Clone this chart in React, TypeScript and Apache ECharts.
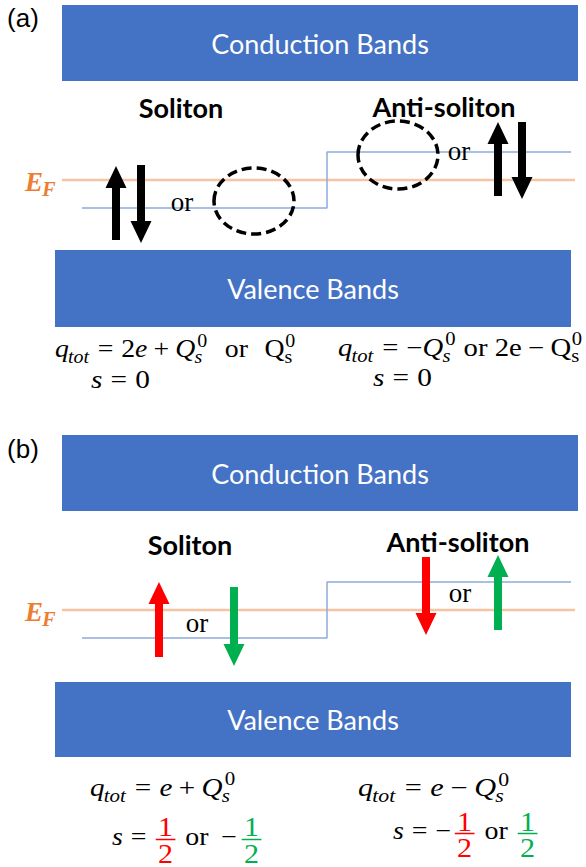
import React, { useEffect, useRef } from 'react';
import * as echarts from 'echarts';

const WIDTH = 586;
const HEIGHT = 867;

// ---------- diagram data (diagram units = pixels of the figure) ----------
const bandNames = ['Conduction Bands', 'Valence Bands'];
// [x0, y0, x1, y1, name index]
const bandBlocks = [
  [62, 5, 578, 81, 0],
  [55, 250, 571, 327, 1],
  [62, 435, 578, 511, 0],
  [55, 682, 571, 757, 1],
];

const fermiLevels = [180, 610];
const fermiSpan = [62, 575];
const solitonLevelA = [[82, 208], [327, 208], [327, 152], [571, 152]];
const solitonLevelB = [[82, 638], [327, 638], [327, 582], [571, 582]];

const spinColors = ['#000000', '#FF0000', '#00B050'];
// [x, tail y, tip y, colour index]
const spinArrows = [
  [116, 240, 166, 0],
  [141, 165, 243, 0],
  [498, 196, 122, 0],
  [522, 122, 199, 0],
  [159, 657, 582, 1],
  [234, 587, 666, 2],
  [426, 557, 635, 1],
  [498, 630, 555, 2],
];

// empty (hole) states: [cx, cy, rx, ry]
const emptyStates = [
  [254, 201, 40, 33],
  [398, 155, 40, 34],
];

const labelTexts = ['(a)', '(b)', 'Soliton', 'Anti-soliton', 'or'];
// [x, y, text index, kind]
const labelMarks = [
  [23, 18, 0, 0],
  [23, 449, 1, 0],
  [181, 107, 2, 1],
  [444, 106, 3, 1],
  [190, 544, 2, 1],
  [458, 541, 3, 1],
  [182, 202, 4, 2],
  [459, 151, 4, 2],
  [197, 623, 4, 2],
  [460, 593, 4, 2],
];

// ---------- formula tokens ----------
type Tok =
  | { k: 't'; s: string; it?: boolean; c?: string }
  | { k: 'op'; s: string }
  | { k: 'ss'; sub?: string; sup?: string; subUp?: boolean }
  | { k: 'fr'; n: string; d: string; c: string }
  | { k: 'sp'; w: number };

const T = (s: string, it = false, c?: string): Tok => ({ k: 't', s, it, c });
const OP = (s: string): Tok => ({ k: 'op', s });
const SS = (sub?: string, sup?: string, subUp = false): Tok => ({ k: 'ss', sub, sup, subUp });
const FR = (n: string, d: string, c: string): Tok => ({ k: 'fr', n, d, c });
const SP = (w: number): Tok => ({ k: 'sp', w });

const RED = '#FF0000';
const GREEN = '#00B050';

const fermiSymbol = [T('E', true), SS('F')];
const chargeA1 = [T('q', true), SS('tot'), OP('='), T('2'), T('e', true), OP('+'), T('Q', true), SS('s', '0'), SP(0.6), T('or'), SP(0.6), T('Q'), SS('s', '0', true)];
const chargeA2 = [T('q', true), SS('tot'), OP('='), T('\u2212'), T('Q', true), SS('s', '0'), SP(0.25), T('or'), SP(0.25), T('2e'), OP('\u2212'), T('Q'), SS('s', '0', true)];
const spinZero = [T('s', true), OP('='), T('0')];
const chargeB1 = [T('q', true), SS('tot'), OP('='), T('e', true), OP('+'), T('Q', true), SS('s', '0')];
const chargeB2 = [T('q', true), SS('tot'), OP('='), T('e', true), OP('\u2212'), T('Q', true), SS('s', '0')];
const spinB1 = [T('s', true), OP('='), FR('1', '2', RED), SP(0.3), T('or'), SP(0.45), T('\u2212'), SP(0.12), FR('1', '2', GREEN)];
const spinB2 = [T('s', true), OP('='), T('\u2212'), SP(0.08), FR('1', '2', RED), SP(0.3), T('or'), SP(0.3), FR('1', '2', GREEN)];

const formulaList = [fermiSymbol, fermiSymbol, chargeA1, spinZero, chargeA2, spinZero, chargeB1, spinB1, chargeB2, spinB2];
// [left x, baseline y, target width (0 = default stretch), style index]
const formulaAnchors = [
  [25, 191, 0, 1],
  [25, 621, 0, 1],
  [55, 357, 241, 0],
  [91, 388, 59, 0],
  [338, 356, 245, 0],
  [373, 386, 59, 0],
  [90, 796, 146, 0],
  [112, 845, 151, 0],
  [358, 796, 152, 0],
  [393, 839, 146, 0],
];

// ---------- styles ----------
const SERIF = '"Liberation Serif", "Times New Roman", serif';
const CENTRAL = 0.34;
interface FStyle { size: number; color: string; bold: boolean; scriptRatio: number; subDrop: number; supRise: number; }
const formulaStyles: FStyle[] = [
  { size: 25, color: '#000000', bold: false, scriptRatio: 0.72, subDrop: 0.25, supRise: 0.42 },
  { size: 27, color: '#ED7D31', bold: true, scriptRatio: 0.74, subDrop: 0.19, supRise: 0.4 },
];

let measureCtx: CanvasRenderingContext2D | null = null;
function measureText(text: string, font: string): number {
  if (!measureCtx) measureCtx = document.createElement('canvas').getContext('2d');
  if (!measureCtx) return text.length * 10;
  measureCtx.font = font;
  return measureCtx.measureText(text).width;
}
function fontStr(size: number, it: boolean, bold: boolean) {
  return `${it ? 'italic ' : ''}${bold ? 'bold ' : ''}${size.toFixed(2)}px ${SERIF}`;
}

function layoutFormula(tokens: Tok[], st: FStyle) {
  const S = st.size;
  const pieces: any[] = [];
  let x = 0;
  let prevItalic = false;
  const put = (text: string, px: number, base: number, size: number, it: boolean, color: string) => {
    pieces.push({
      type: 'text',
      x: px,
      y: base - CENTRAL * size,
      style: { text, font: fontStr(size, it, st.bold), fill: color, align: 'left', verticalAlign: 'middle' },
    });
  };
  for (const t of tokens) {
    if (t.k === 't') {
      const w = measureText(t.s, fontStr(S, !!t.it, st.bold));
      put(t.s, x, 0, S, !!t.it, t.c || st.color);
      x += w;
      prevItalic = !!t.it;
    } else if (t.k === 'op') {
      const g = (t.s === '=' ? 0.28 : 0.22) * S;
      x += g;
      const w = measureText(t.s, fontStr(S, false, st.bold));
      put(t.s, x, 0, S, false, st.color);
      x += w + g;
      prevItalic = false;
    } else if (t.k === 'ss') {
      const s2 = S * st.scriptRatio;
      let w = 0;
      if (t.sub) {
        const off = prevItalic ? -0.03 * S : 0;
        const ws = measureText(t.sub, fontStr(s2, !t.subUp, st.bold));
        put(t.sub, x + off, st.subDrop * S, s2, !t.subUp, st.color);
        w = Math.max(w, ws + off);
      }
      if (t.sup) {
        const off = prevItalic ? 0.07 * S : 0.02 * S;
        const ws = measureText(t.sup, fontStr(s2, false, st.bold));
        put(t.sup, x + off, -st.supRise * S, s2, false, st.color);
        w = Math.max(w, ws + off);
      }
      x += w + 0.03 * S;
      prevItalic = false;
    } else if (t.k === 'fr') {
      const fs = S * 1.08;
      const fnt = fontStr(fs, false, st.bold);
      const wn = measureText(t.n, fnt);
      const wd = measureText(t.d, fnt);
      const pad = 0.14 * S;
      const fw = Math.max(wn, wd) + 2 * pad;
      const bar = -0.22 * S;
      put(t.n, x + (fw - wn) / 2, bar - 0.13 * S, fs, false, t.c);
      put(t.d, x + (fw - wd) / 2, bar + 0.2 * S + 0.68 * fs, fs, false, t.c);
      pieces.push({
        type: 'rect',
        shape: { x: x + pad * 0.4, y: bar - 0.75, width: fw - pad * 0.8, height: 1.5 },
        style: { fill: t.c },
      });
      x += fw;
      prevItalic = false;
    } else if (t.k === 'sp') {
      x += t.w * S;
    }
  }
  return { pieces, width: x };
}

function formulaStretch(): number[] {
  const natural = formulaList.map((toks, i) => layoutFormula(toks, formulaStyles[formulaAnchors[i][3]]).width);
  const ref = formulaAnchors[2][2] / natural[2];
  return formulaAnchors.map((a, i) => {
    if (a[3] === 1) return 1;
    return a[2] > 0 ? a[2] / natural[i] : ref;
  });
}

const App: React.FC = () => {
  const ref = useRef<HTMLDivElement>(null);

  useEffect(() => {
    if (!ref.current) return;
    const chart = echarts.init(ref.current, undefined, { renderer: 'svg' });
    const stretch = formulaStretch();

    const lineSeries = (data: number[][], color: string, width: number, z: number) => ({
      type: 'line',
      data,
      symbol: 'none',
      silent: true,
      z,
      lineStyle: { color, width },
    });

    const option: any = {
      animation: false,
      backgroundColor: '#FFFFFF',
      grid: { left: 0, right: 0, top: 0, bottom: 0 },
      xAxis: { type: 'value', min: 0, max: WIDTH, show: false },
      yAxis: { type: 'value', min: 0, max: HEIGHT, inverse: true, show: false },
      series: [
        {
          type: 'custom',
          name: 'bands',
          z: 1,
          silent: true,
          data: bandBlocks,
          renderItem: (_p: any, api: any) => {
            const a = api.coord([api.value(0), api.value(1)]);
            const b = api.coord([api.value(2), api.value(3)]);
            return {
              type: 'group',
              children: [
                { type: 'rect', shape: { x: a[0], y: a[1], width: b[0] - a[0], height: b[1] - a[1] }, style: { fill: '#4472C4' } },
                {
                  type: 'text',
                  x: (a[0] + b[0]) / 2,
                  y: (a[1] + b[1]) / 2,
                  style: { text: bandNames[api.value(4)], fill: '#FFFFFF', font: '27px Lato, "Open Sans", sans-serif', align: 'center', verticalAlign: 'middle' },
                },
              ],
            };
          },
        },
        ...fermiLevels.map((y) => lineSeries([[fermiSpan[0], y], [fermiSpan[1], y]], '#F7C3A2', 2.5, 2)),
        lineSeries(solitonLevelA, '#8FAADC', 1.5, 2),
        lineSeries(solitonLevelB, '#8FAADC', 1.5, 2),
        {
          type: 'custom',
          name: 'empty states',
          z: 3,
          silent: true,
          data: emptyStates,
          renderItem: (_p: any, api: any) => {
            const c = api.coord([api.value(0), api.value(1)]);
            const e = api.coord([api.value(0) + api.value(2), api.value(1) + api.value(3)]);
            return {
              type: 'ellipse',
              shape: { cx: c[0], cy: c[1], rx: e[0] - c[0], ry: e[1] - c[1] },
              style: { fill: 'none', stroke: '#000000', lineWidth: 3.5, lineDash: [10, 5] },
            };
          },
        },
        {
          type: 'custom',
          name: 'spins',
          z: 4,
          silent: true,
          data: spinArrows,
          renderItem: (_p: any, api: any) => {
            const p0 = api.coord([api.value(0), api.value(1)]);
            const p1 = api.coord([api.value(0), api.value(2)]);
            const dir = p1[1] > p0[1] ? 1 : -1;
            const hx = p0[0];
            const sw = 4;
            const hw = 10.5;
            const hl = 22;
            const yb = p1[1] - dir * hl;
            return {
              type: 'polygon',
              shape: {
                points: [
                  [hx - sw, p0[1]], [hx - sw, yb], [hx - hw, yb], [hx, p1[1]],
                  [hx + hw, yb], [hx + sw, yb], [hx + sw, p0[1]],
                ],
              },
              style: { fill: spinColors[api.value(3)] },
            };
          },
        },
        {
          type: 'custom',
          name: 'labels',
          z: 5,
          silent: true,
          data: labelMarks,
          renderItem: (_p: any, api: any) => {
            const p = api.coord([api.value(0), api.value(1)]);
            const kind = api.value(3);
            const font =
              kind === 0 ? '26px "Liberation Sans", Arial, sans-serif'
              : kind === 1 ? 'bold 27px Lato, "Open Sans", sans-serif'
              : `27px ${SERIF}`;
            return {
              type: 'text',
              x: p[0],
              y: p[1],
              style: { text: labelTexts[api.value(2)], fill: '#000000', font, align: 'center', verticalAlign: 'middle' },
            };
          },
        },
        {
          type: 'custom',
          name: 'formulas',
          z: 6,
          silent: true,
          data: formulaAnchors.map((a, i) => [a[0], a[1], i]),
          renderItem: (_p: any, api: any) => {
            const i = api.value(2);
            const p = api.coord([api.value(0), api.value(1)]);
            const L = layoutFormula(formulaList[i], formulaStyles[formulaAnchors[i][3]]);
            return { type: 'group', x: p[0], y: p[1], scaleX: stretch[i], children: L.pieces };
          },
        },
      ],
    };

    chart.setOption(option);
    return () => chart.dispose();
  }, []);

  return (
    <div
      ref={ref}
      style={{ position: 'absolute', left: 0, top: 0, width: WIDTH, height: HEIGHT, background: '#FFFFFF' }}
    />
  );
};

export default App;
